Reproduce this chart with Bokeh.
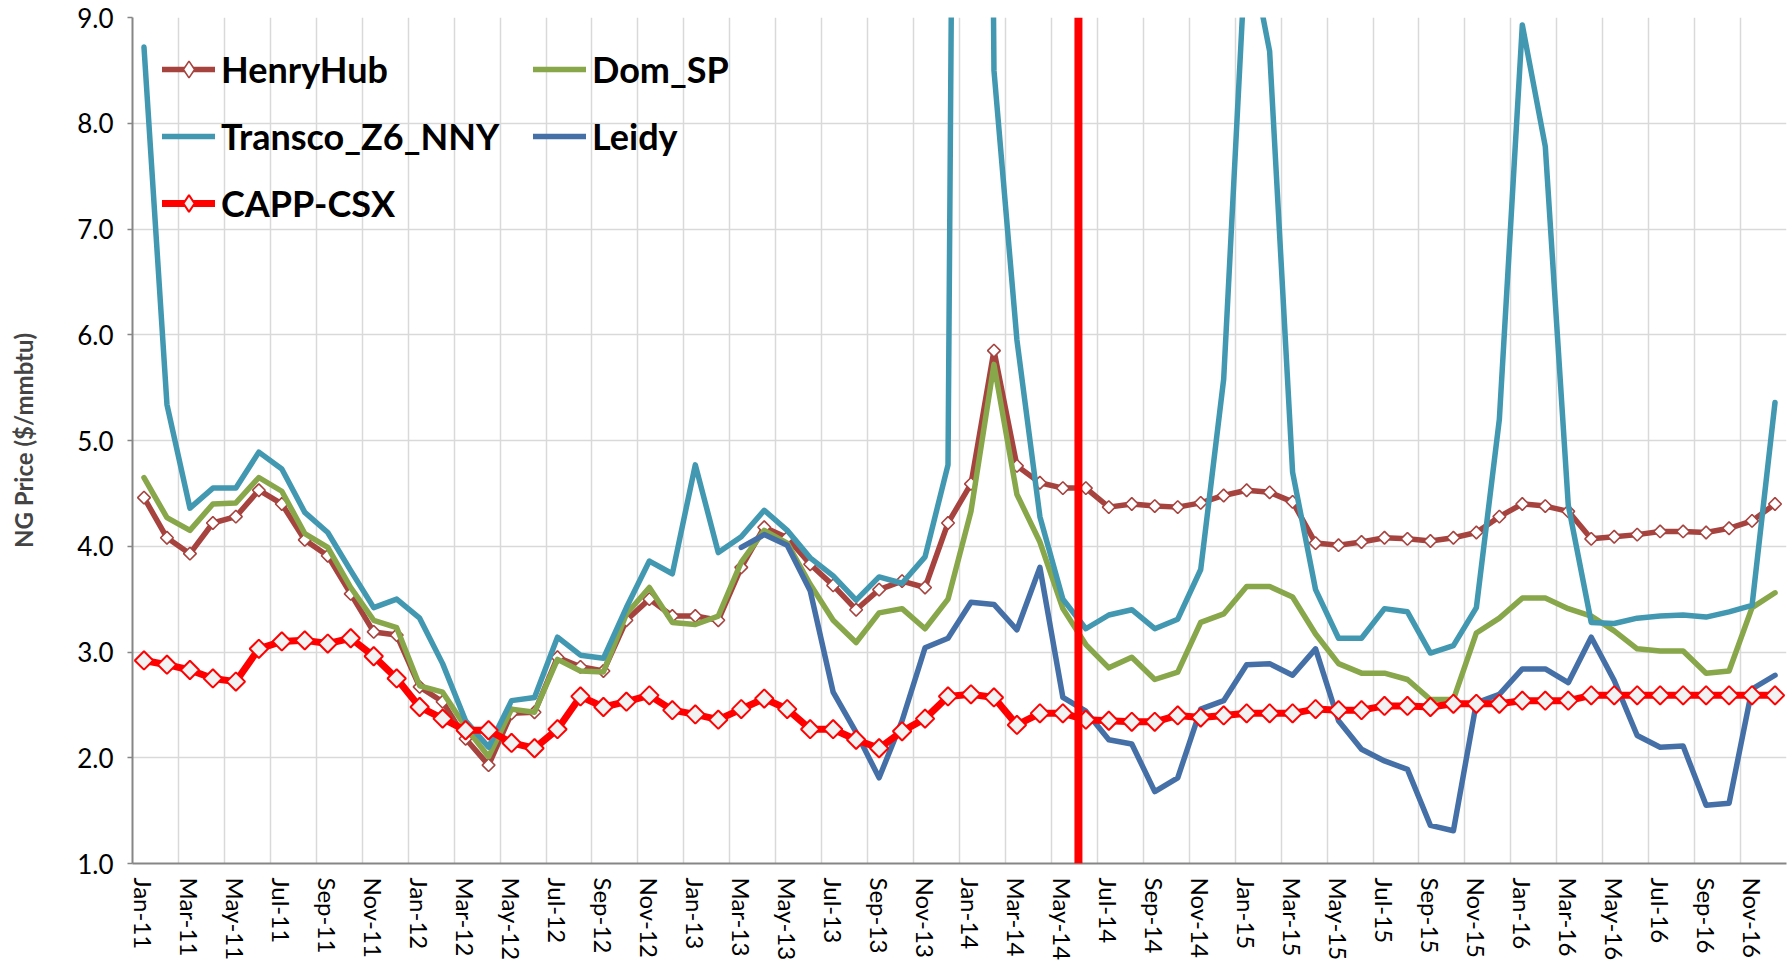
import numpy as np
import pandas as pd
from bokeh.plotting import figure
from bokeh.models import (Range1d, FixedTicker, Legend, LegendItem, Span,
                          NumeralTickFormatter)
from bokeh.embed import file_html
from bokeh.resources import INLINE

# ---------------- data ----------------
months = list(pd.date_range("2011-01-01", periods=72, freq="MS").strftime("%b-%y"))

henry_hub = [4.46, 4.08, 3.93, 4.22, 4.28, 4.53, 4.40, 4.06, 3.91, 3.55, 3.19, 3.16,
             2.67, 2.53, 2.18, 1.93, 2.42, 2.43, 2.95, 2.86, 2.82, 3.30, 3.50, 3.34,
             3.34, 3.30, 3.80, 4.18, 4.08, 3.83, 3.63, 3.40, 3.59, 3.67, 3.61, 4.22,
             4.59, 5.85, 4.76, 4.60, 4.55, 4.55, 4.37, 4.40, 4.38, 4.37, 4.41, 4.48,
             4.53, 4.51, 4.42, 4.03, 4.01, 4.04, 4.08, 4.07, 4.05, 4.08, 4.13, 4.28,
             4.40, 4.38, 4.33, 4.07, 4.09, 4.11, 4.14, 4.14, 4.13, 4.17, 4.24, 4.40]

dom_sp = [4.65, 4.27, 4.15, 4.40, 4.41, 4.65, 4.52, 4.12, 3.99, 3.61, 3.30, 3.23,
          2.68, 2.62, 2.29, 2.01, 2.46, 2.43, 2.93, 2.82, 2.81, 3.36, 3.61, 3.28,
          3.26, 3.34, 3.85, 4.15, 4.03, 3.64, 3.30, 3.09, 3.37, 3.41, 3.22, 3.50,
          4.33, 5.72, 4.49, 4.04, 3.41, 3.07, 2.85, 2.95, 2.74, 2.81, 3.28, 3.36,
          3.62, 3.62, 3.52, 3.17, 2.89, 2.80, 2.80, 2.74, 2.55, 2.55, 3.18, 3.32,
          3.51, 3.51, 3.41, 3.34, 3.20, 3.03, 3.01, 3.01, 2.80, 2.82, 3.42, 3.56]

transco_z6_nny = [8.72, 5.34, 4.36, 4.55, 4.55, 4.89, 4.73, 4.32, 4.13, 3.77, 3.42, 3.50,
                  3.32, 2.89, 2.35, 2.10, 2.54, 2.57, 3.14, 2.97, 2.94, 3.42, 3.86, 3.74,
                  4.77, 3.94, 4.09, 4.34, 4.15, 3.89, 3.72, 3.49, 3.71, 3.65, 3.90, 4.77,
                  35.0, 8.50, 5.95, 4.28, 3.50, 3.22, 3.35, 3.40, 3.22, 3.31, 3.78, 5.58,
                  9.80, 8.68, 4.70, 3.59, 3.13, 3.13, 3.41, 3.38, 2.99, 3.06, 3.42, 5.20,
                  8.93, 7.78, 4.39, 3.28, 3.27, 3.32, 3.34, 3.35, 3.33, 3.38, 3.44, 5.36]

leidy = [np.nan] * 26 + [
    3.99, 4.11, 4.01, 3.58, 2.62, 2.24, 1.81, 2.35, 3.04, 3.13,
    3.47, 3.45, 3.21, 3.80, 2.57, 2.44, 2.17, 2.13, 1.68, 1.81, 2.46, 2.54,
    2.88, 2.89, 2.78, 3.03, 2.35, 2.08, 1.97, 1.89, 1.36, 1.31, 2.52, 2.60,
    2.84, 2.84, 2.71, 3.14, 2.73, 2.21, 2.10, 2.11, 1.55, 1.57, 2.65, 2.78]

capp_csx = [2.92, 2.88, 2.83, 2.75, 2.72, 3.03, 3.10, 3.11, 3.08, 3.13, 2.96, 2.75,
            2.48, 2.37, 2.26, 2.26, 2.14, 2.09, 2.27, 2.58, 2.48, 2.53, 2.59, 2.45,
            2.41, 2.36, 2.46, 2.56, 2.46, 2.27, 2.27, 2.17, 2.09, 2.25, 2.37, 2.58,
            2.60, 2.57, 2.31, 2.42, 2.42, 2.36, 2.35, 2.34, 2.34, 2.40, 2.38, 2.40,
            2.42, 2.42, 2.42, 2.46, 2.45, 2.45, 2.49, 2.49, 2.48, 2.51, 2.51, 2.51,
            2.54, 2.54, 2.54, 2.59, 2.59, 2.59, 2.59, 2.59, 2.59, 2.59, 2.59, 2.59]

y_ticks = [1, 2, 3, 4, 5, 6, 7, 8, 9]
event_date = "2014-05-22"   # red vertical marker

# ---------------- derived ----------------
x = list(range(len(months)))
ev = pd.Timestamp(event_date)
event_idx = (ev.year - 2011) * 12 + (ev.month - 1) + (ev.day - 1) / ev.days_in_month

HH_C = "#A6433F"
DOM_C = "#88A64A"
TR_C = "#4298B1"
LE_C = "#4570A7"
CAPP_C = "#FF0000"
FONT = "Lato"

p = figure(width=1788, height=963,
           x_range=Range1d(-0.5, len(months) - 0.5), y_range=Range1d(1, 9),
           output_backend="svg", toolbar_location=None,
           min_border_left=132, min_border_right=2, min_border_top=17,
           min_border_bottom=99)
p.outline_line_color = None
p.background_fill_color = "white"
p.border_fill_color = "white"

# grids
p.xgrid.ticker = FixedTicker(ticks=[k - 0.5 for k in range(2, len(months) + 1, 2)])
p.ygrid.ticker = FixedTicker(ticks=y_ticks)
for g in (p.xgrid, p.ygrid):
    g.grid_line_color = "#D9D9D9"
    g.grid_line_width = 1.5

# x axis
p.xaxis.ticker = FixedTicker(ticks=list(range(0, len(months), 2)))
p.xaxis.major_label_overrides = {i: months[i] for i in range(0, len(months), 2)}
p.xaxis.major_label_orientation = "vertical"
p.xaxis.major_tick_line_color = None
p.xaxis.minor_tick_line_color = None
p.xaxis.major_label_standoff = 8
p.xaxis.major_label_text_font = FONT
p.xaxis.major_label_text_font_size = "24px"
p.xaxis.major_label_text_color = "black"
p.xaxis.axis_line_color = "#868686"
p.xaxis.axis_line_width = 2

# y axis
p.yaxis.ticker = FixedTicker(ticks=y_ticks)
p.yaxis.formatter = NumeralTickFormatter(format="0.0")
p.yaxis.minor_tick_line_color = None
p.yaxis.major_tick_out = 5
p.yaxis.major_tick_in = 0
p.yaxis.major_tick_line_color = "#868686"
p.yaxis.major_tick_line_width = 1.5
p.yaxis.major_label_standoff = 14
p.yaxis.major_label_text_font = FONT
p.yaxis.major_label_text_font_size = "26px"
p.yaxis.major_label_text_color = "black"
p.yaxis.axis_line_color = "#868686"
p.yaxis.axis_line_width = 2
p.yaxis.axis_label = "NG Price ($/mmbtu)"
p.yaxis.axis_label_text_font = FONT
p.yaxis.axis_label_text_font_style = "bold"
p.yaxis.axis_label_text_font_size = "24px"
p.yaxis.axis_label_standoff = 36

# series
LW = 5.5
hh_line = p.line(x, henry_hub, line_color=HH_C, line_width=LW, line_join="round", line_cap="round")
hh_pts = p.scatter(x, henry_hub, marker="square", angle=np.pi / 4, size=9,
                   fill_color="white", line_color=HH_C, line_width=1.6)
dom_line = p.line(x, dom_sp, line_color=DOM_C, line_width=LW, line_join="round", line_cap="round")
tr_line = p.line(x, transco_z6_nny, line_color=TR_C, line_width=LW, line_join="round", line_cap="round")
le_line = p.line(x, leidy, line_color=LE_C, line_width=LW, line_join="round", line_cap="round")
capp_line = p.line(x, capp_csx, line_color=CAPP_C, line_width=7, line_join="round", line_cap="round")
capp_pts = p.scatter(x, capp_csx, marker="square", angle=np.pi / 4, size=13,
                     fill_color="#F2F2F2", line_color=CAPP_C, line_width=2)

# legend-only diamond keys (NaN data: nothing drawn in the plot area)
hh_key = p.scatter([np.nan], [np.nan], marker="diamond", size=17, fill_color="white",
                   line_color=HH_C, line_width=1.6)
capp_key = p.scatter([np.nan], [np.nan], marker="diamond", size=23, fill_color="#F2F2F2",
                     line_color=CAPP_C, line_width=2)

p.add_layout(Span(location=event_idx, dimension="height",
                  line_color="#FF0000", line_width=8))

legend = Legend(items=[
    LegendItem(label="HenryHub", renderers=[hh_line, hh_key]),
    LegendItem(label="Dom_SP", renderers=[dom_line]),
    LegendItem(label="Transco_Z6_NNY", renderers=[tr_line]),
    LegendItem(label="Leidy", renderers=[le_line]),
    LegendItem(label="CAPP-CSX", renderers=[capp_line, capp_key]),
], location="top_left", orientation="horizontal", ncols=2)
legend.label_text_font = FONT
legend.label_text_font_style = "bold"
legend.label_text_font_size = "36px"
legend.label_text_color = "black"
legend.glyph_width = 53
legend.glyph_height = 42
legend.label_height = 42
legend.label_width = 289
legend.label_standoff = 6
legend.spacing = 23
legend.margin = 30
legend.padding = 0
legend.border_line_color = None
legend.background_fill_alpha = 0
p.add_layout(legend)

open("out.html", "w").write(file_html(p, INLINE))
